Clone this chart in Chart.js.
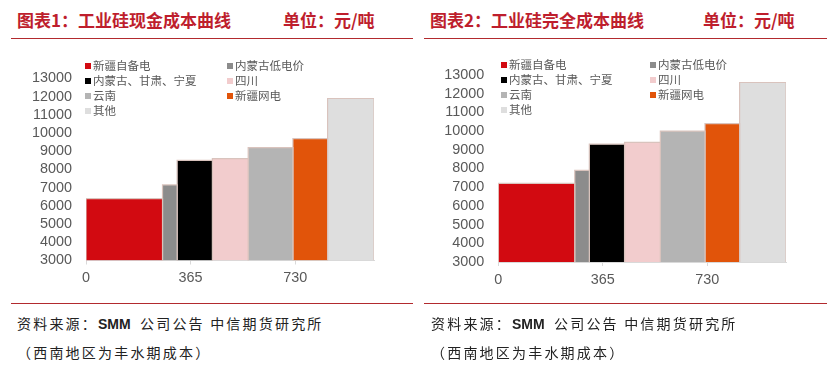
<!DOCTYPE html>
<html>
<head>
<meta charset="utf-8">
<script src="https://cdn.jsdelivr.net/npm/chart.js@4.4.1/dist/chart.umd.min.js"></script>
<style>
  body { margin: 0; background: #fff; width: 834px; height: 371px; position: relative; overflow: hidden;
         font-family: "Noto Sans CJK SC", "Noto Sans", sans-serif; }
  .title { position: absolute; top: 8px; font-size: 17px; font-weight: bold; color: #BE1E2D; white-space: nowrap; line-height: 24px; }
  .rule { position: absolute; height: 1px; background: #B22A2E; }
  .src { position: absolute; font-size: 14px; letter-spacing: 2.2px; color: #222; white-space: nowrap; line-height: 20px; }
  .src b { letter-spacing: 0; font-family: "Liberation Sans Narrow", "Liberation Sans", sans-serif; font-size: 14px; margin-right: 4px; }
  canvas { position: absolute; }
  .lg { position: absolute; font-size: 11.5px; color: #595959; white-space: nowrap; line-height: 14px; }
  .lg i { display: inline-block; width: 6px; height: 6px; margin-right: 2px; vertical-align: 1px; }
</style>
</head>
<body>

<div class="title" style="left:17px">图表1：工业硅现金成本曲线</div>
<div class="title" style="left:283px">单位：元/吨</div>
<div class="title" style="left:430px">图表2：工业硅完全成本曲线</div>
<div class="title" style="left:703px">单位：元/吨</div>
<div class="rule" style="left:11px;width:402px;top:38px"></div>
<div class="rule" style="left:424px;width:403px;top:38px"></div>

<canvas id="cashChart" width="420" height="260" style="left:0;top:40px"></canvas>
<canvas id="fullChart" width="420" height="260" style="left:413px;top:40px"></canvas>

<div class="rule" style="left:11px;width:402px;top:303px"></div>
<div class="rule" style="left:424px;width:403px;top:303px"></div>
<div class="src" style="left:17px;top:313px">资料来源：<b>SMM</b> 公司公告 中信期货研究所</div>
<div class="src" style="left:17px;top:342px">（西南地区为丰水期成本）</div>
<div class="src" style="left:431px;top:313px">资料来源：<b>SMM</b> 公司公告 中信期货研究所</div>
<div class="src" style="left:431px;top:342px">（西南地区为丰水期成本）</div>

<script>
// 产区
const categories = ['新疆自备电', '内蒙古低电价', '内蒙古、甘肃、宁夏', '四川', '云南', '新疆网电', '其他'];
// 产能宽度（x轴）
const capacity = [267, 51, 123, 125, 156, 121, 162];
// 现金成本 元/吨
const cashCost = [6400, 7150, 8500, 8600, 9200, 9700, 11900];
// 完全成本 元/吨
const fullCost = [7200, 7900, 9300, 9400, 10000, 10400, 12600];
const xTicks = [0, 365, 730];
const yTicks = [3000, 4000, 5000, 6000, 7000, 8000, 9000, 10000, 11000, 12000, 13000];

const colors = ['#D20A11', '#8C8C8C', '#000000', '#F2CCCD', '#B4B4B4', '#E1540A', '#DEDEDE'];

function makeChart(id, values, g) {
  const ctx = document.getElementById(id).getContext('2d');
  let start = 0;
  const datasets = categories.map((name, i) => {
    const end = start + capacity[i];
    const ds = {
      label: name,
      data: [
        { x: start, y: yTicks[0] },
        { x: start, y: values[i] },
        { x: end, y: values[i] },
        { x: end, y: yTicks[0] }
      ],
      backgroundColor: colors[i],
      borderColor: '#D9C3BD',
      borderWidth: 1.2,
      pointRadius: 0,
      fill: { value: yTicks[0] },
      tension: 0
    };
    start = end;
    return ds;
  });

  const tickFont = { family: 'Liberation Sans', size: 14.4 };

  const chart = new Chart(ctx, {
    type: 'line',
    data: { datasets },
    options: {
      responsive: false,
      animation: false,
      layout: { padding: { top: g.top, right: g.right, left: 0, bottom: 0 } },
      plugins: { legend: { display: false }, tooltip: { enabled: false } },
      scales: {
        x: {
          type: 'linear',
          min: 0,
          max: start,
          grid: { display: true, drawOnChartArea: false, drawTicks: true, tickLength: 4, color: '#D9D9D9' },
          border: { display: true, color: '#D9D9D9' },
          afterBuildTicks: s => { s.ticks = xTicks.map(v => ({ value: v })); },
          afterFit: s => { s.height = g.xh; },
          ticks: { color: '#595959', font: tickFont, padding: 5, maxRotation: 0, autoSkip: false,
                   callback: v => String(v) }
        },
        y: {
          min: yTicks[0],
          max: yTicks[yTicks.length - 1],
          grid: { display: false, drawTicks: false },
          border: { display: false },
          afterBuildTicks: s => { s.ticks = yTicks.map(v => ({ value: v })); },
          afterFit: s => { s.width = g.left; },
          ticks: { color: '#595959', font: tickFont, padding: 14, autoSkip: false,
                   callback: v => String(v) }
        }
      }
    }
  });

  // legend, two columns
  chart.data.datasets.forEach((ds, i) => {
    const el = document.createElement('div');
    el.className = 'lg';
    el.style.left = g.legendX[i % 2] + 'px';
    el.style.top = (g.legendY + Math.floor(i / 2) * 15 - 7) + 'px';
    el.innerHTML = '<i style="background:' + ds.backgroundColor + '"></i>' + ds.label;
    document.body.appendChild(el);
  });
  return chart;
}

makeChart('cashChart', cashCost, { top: 38.5, right: 46, left: 86, xh: 39.5, legendX: [85, 227], legendY: 65 });
makeChart('fullChart', fullCost, { top: 35, right: 47, left: 85.3, xh: 38, legendX: [501, 650], legendY: 64 });
</script>
</body>
</html>
